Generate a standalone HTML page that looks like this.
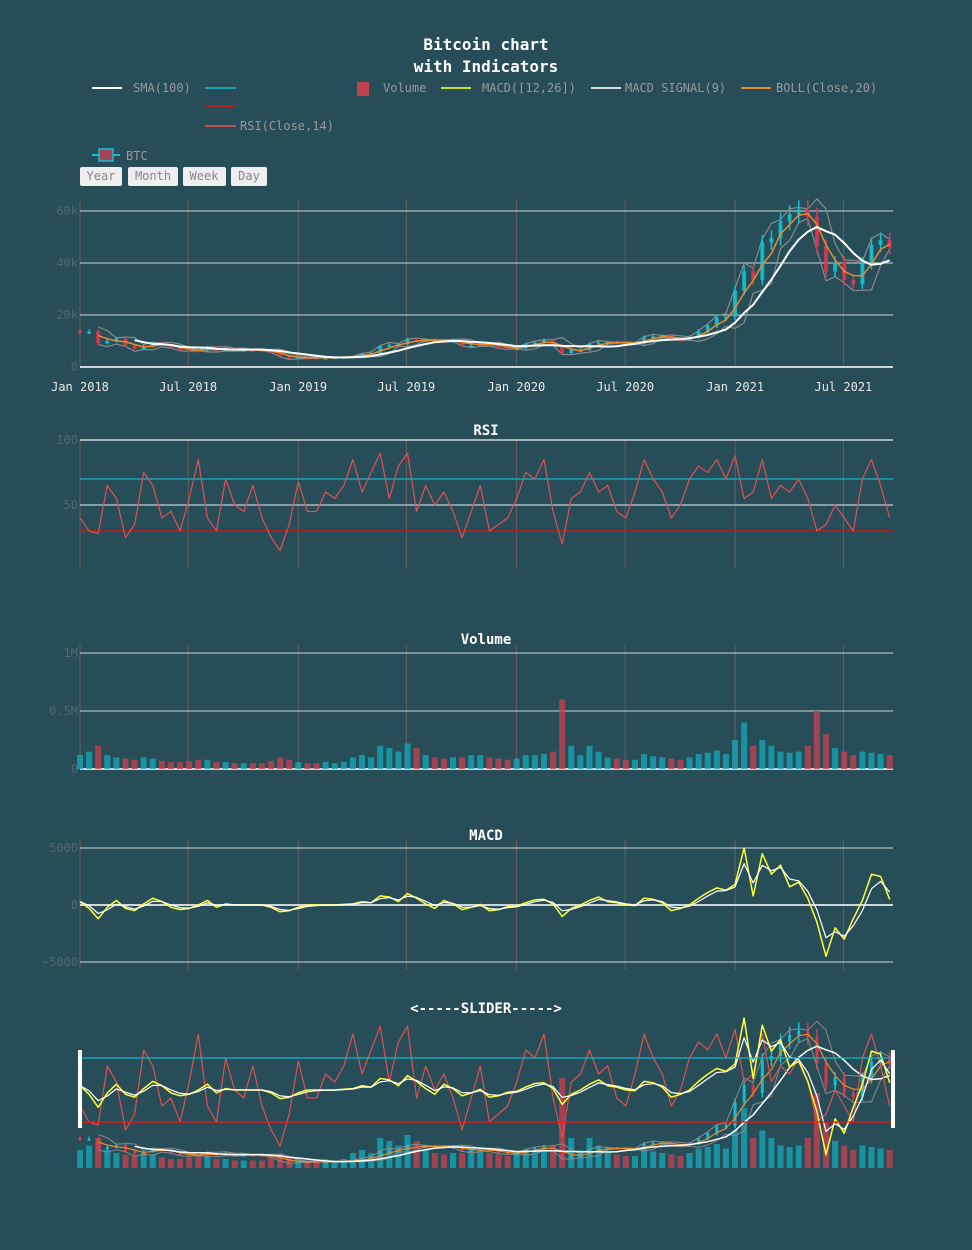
<!DOCTYPE html>
<html><head><meta charset="utf-8">
<style>
html,body{margin:0;padding:0;background:#274d58;}
svg{display:block;font-family:"DejaVu Sans Mono","Liberation Mono",monospace;}
</style></head>
<body>
<svg id="c" width="972" height="1250" viewBox="0 0 972 1250">
<rect x="0" y="0" width="972" height="1250" fill="#274d58"/>
<text x="486" y="50" text-anchor="middle" fill="#fff" font-size="16" font-weight="bold">Bitcoin chart</text>
<text x="486" y="72" text-anchor="middle" fill="#fff" font-size="16" font-weight="bold">with Indicators</text>
<g font-size="12" fill="#999">
 <g><line x1="92" y1="88" x2="122" y2="88" stroke="#fff" stroke-width="2"/><text x="133" y="92">SMA(100)</text></g>
 <g><line x1="205" y1="88" x2="236" y2="88" stroke="#17a5b5" stroke-width="2"/></g>
 <g><line x1="205" y1="106" x2="236" y2="106" stroke="#b02020" stroke-width="2"/></g>
 <g><line x1="205" y1="126" x2="236" y2="126" stroke="#c0504d" stroke-width="2"/><text x="240" y="130">RSI(Close,14)</text></g>
 <g><rect x="357" y="82" width="12" height="14" fill="#c0414f"/><text x="383" y="92">Volume</text></g>
 <g><line x1="441" y1="88" x2="471" y2="88" stroke="#cddc39" stroke-width="2"/><text x="482" y="92">MACD([12,26])</text></g>
 <g><line x1="591" y1="88" x2="621" y2="88" stroke="#ddd" stroke-width="2"/><text x="625" y="92">MACD SIGNAL(9)</text></g>
 <g><line x1="741" y1="88" x2="771" y2="88" stroke="#e08a2c" stroke-width="2"/><text x="776" y="92">BOLL(Close,20)</text></g>
 <g><line x1="92" y1="155" x2="120" y2="155" stroke="#17becf" stroke-width="2"/><rect x="99" y="149" width="14" height="12" fill="#a04458" stroke="#17becf" stroke-width="1.5"/><text x="126" y="160">BTC</text></g>
</g>
<g font-size="12" fill="#888">
 <g><rect x="80" y="167" width="42" height="19" rx="2" fill="#eee"/><text x="101" y="180" text-anchor="middle">Year</text></g>
 <g><rect x="128" y="167" width="50" height="19" rx="2" fill="#eee"/><text x="153" y="180" text-anchor="middle">Month</text></g>
 <g><rect x="183" y="167" width="43" height="19" rx="2" fill="#eee"/><text x="204" y="180" text-anchor="middle">Week</text></g>
 <g><rect x="231" y="167" width="36" height="19" rx="2" fill="#eee"/><text x="249" y="180" text-anchor="middle">Day</text></g>
</g>
<text x="486" y="435" text-anchor="middle" fill="#fff" font-size="14" font-weight="bold">RSI</text>
<text x="486" y="644" text-anchor="middle" fill="#fff" font-size="14" font-weight="bold">Volume</text>
<text x="486" y="840" text-anchor="middle" fill="#fff" font-size="14" font-weight="bold">MACD</text>
<text x="486" y="1013" text-anchor="middle" fill="#fff" font-size="14" font-weight="bold">&lt;-----SLIDER-----&gt;</text>
</svg>
<script>
// half-monthly samples Jan 2018 .. Sep 2021 (90 points)
const closes = [13.5,13.6,9.1,10.0,10.9,8.2,6.9,8.0,9.2,8.5,7.5,6.5,6.4,6.3,7.6,6.3,7.2,6.5,6.6,6.5,6.4,5.6,4.2,3.3,
3.8,3.6,3.5,3.6,3.8,3.9,4.1,5.1,5.4,8.0,8.5,8.8,10.6,10.2,10.4,10.3,9.8,10.3,8.3,8.3,9.2,8.5,7.4,7.1,
7.2,8.8,9.4,10.3,8.6,5.4,6.6,6.6,8.8,9.4,9.5,9.4,9.2,9.2,11.4,11.8,11.9,10.8,10.6,11.5,13.7,15.9,19.0,19.3,
29.4,36.8,33.5,47.9,49.6,56.0,58.7,60.5,57.8,46.4,36.7,40.2,33.5,31.8,39.9,47.0,48.8,46.0];
const rsiValues = [40,30,28,65,55,25,35,75,65,40,45,30,55,85,40,30,70,50,45,65,40,25,15,35,
68,45,45,60,55,65,85,60,75,90,55,80,90,45,65,50,60,45,25,45,65,30,35,40,
55,75,70,85,45,20,55,60,75,60,65,45,40,60,85,70,60,40,50,70,80,75,85,70,
88,55,60,85,55,65,60,70,55,30,35,50,40,30,70,85,65,40];
const volumeM = [0.12,0.15,0.2,0.12,0.1,0.09,0.08,0.1,0.09,0.07,0.06,0.06,0.07,0.08,0.08,0.06,0.06,0.05,0.05,0.05,0.05,0.07,0.1,0.08,
0.06,0.05,0.05,0.06,0.05,0.06,0.1,0.12,0.1,0.2,0.18,0.15,0.22,0.18,0.12,0.1,0.09,0.1,0.1,0.12,0.12,0.1,0.09,0.08,
0.09,0.12,0.12,0.13,0.15,0.6,0.2,0.12,0.2,0.15,0.1,0.09,0.08,0.08,0.13,0.11,0.1,0.09,0.08,0.1,0.13,0.14,0.16,0.13,
0.25,0.4,0.2,0.25,0.2,0.15,0.14,0.15,0.2,0.5,0.3,0.18,0.15,0.12,0.15,0.14,0.13,0.12];
const macdValues = [300,-300,-1200,-200,400,-300,-500,100,600,300,-200,-400,-300,0,400,-200,100,0,0,0,0,-200,-600,-500,
-200,0,0,0,0,50,100,300,200,800,700,300,1000,600,100,-300,400,100,-400,-200,50,-500,-400,-150,
-100,200,450,500,100,-1000,-300,0,400,700,300,200,0,-50,600,500,200,-500,-300,0,600,1100,1500,1300,
1800,5000,800,4500,2700,3500,1600,2000,600,-1500,-4500,-2000,-3000,-1200,400,2700,2500,500];
const priceTicks = [0,20,40,60];
const priceTickLabels = ['0','20k','40k','60k'];
const volTicks = [0,0.5,1];
const volTickLabels = ['0','0.5M','1M'];
const macdTicks = [-5000,0,5000];
const dateTickDays = [0,181,365,546,730,912,1096,1277];
const dateTickLabels = ['Jan 2018','Jul 2018','Jan 2019','Jul 2019','Jan 2020','Jul 2020','Jan 2021','Jul 2021'];

const NS='http://www.w3.org/2000/svg';
const svg=document.getElementById('c');
function mk(tag,attrs,parent){const e=document.createElementNS(NS,tag);for(const k in attrs)e.setAttribute(k,attrs[k]);(parent||svg).appendChild(e);return e;}
const dayOf=i=>i*365.25/24;
const X=d=>80+d*(813/1360);
const xi=i=>X(dayOf(i));
const yP=v=>367-v*2.6, yR=v=>570-v*1.3, yV=v=>769-v*116, yM=v=>905-v*0.0114;
const sP=v=>1170-v*2.3, sR=v=>1170-v*1.6, sV=v=>1168-v*150, sM=v=>1090-v*0.0144;

function sma(a,w){return a.map((v,i)=>i<w-1?null:a.slice(i-w+1,i+1).reduce((s,x)=>s+x,0)/w);}
const smaVals=sma(closes,7);
const bollMid=sma(closes,3);
const bollUp=bollMid.map((m,i)=>{if(m===null)return null;const s=closes.slice(i-2,i+1);const sd=Math.sqrt(s.reduce((t,x)=>t+(x-m)*(x-m),0)/3);return m+1.6*sd;});
const bollLo=bollMid.map((m,i)=>{if(m===null)return null;return 2*m-bollUp[i];});
const signal=[];macdValues.forEach((v,i)=>signal.push(i?signal[i-1]+0.6*(v-signal[i-1]):v));

function pathOf(arr,yf){let d='';arr.forEach((v,i)=>{if(v===null)return;d+=(d?'L':'M')+xi(i).toFixed(1)+','+yf(v).toFixed(1);});return d;}
function line(arr,yf,color,w,name,g){const p=mk('path',{d:pathOf(arr,yf),fill:'none',stroke:color,'stroke-width':w,'stroke-linejoin':'round'},g);

return p;}
function hline(y,x1,x2,color,w,name){const l=mk('line',{x1:x1,x2:x2,y1:y,y2:y,stroke:color,'stroke-width':w});

}
function vgrid(y1,y2,name){dateTickDays.forEach(d=>{const l=mk('line',{x1:X(d),x2:X(d),y1:y1,y2:y2,stroke:'#6b5f5a','stroke-width':1});

});}
function ylab(y,t,name){const e=mk('text',{x:78,y:y+4,'text-anchor':'end',fill:'#4f6872','font-size':12});e.textContent=t;

}

vgrid(200,367,'price-vgrid');
priceTicks.forEach((v,k)=>{hline(yP(v),80,893,'#cfd6da',v===0?2:1,'price-gridline');ylab(yP(v),priceTickLabels[k],'price-tick-label');});
dateTickDays.forEach((d,k)=>{const t=mk('text',{x:X(d),y:391,'text-anchor':'middle',fill:'#e8e8e8','font-size':12});t.textContent=dateTickLabels[k];

});
function candles(yf,g,wScale){closes.forEach((c,i)=>{const o=i?closes[i-1]:c*1.03;const up=c>=o;const col=up?'#17becf':'#d9394f';
const hi=Math.max(o,c)*1.06,lo=Math.min(o,c)*0.94;const x=xi(i);
const w=mk('line',{x1:x,x2:x,y1:yf(hi),y2:yf(lo),stroke:col,'stroke-width':1.5},g);


const r=mk('rect',{x:x-2*wScale,y:Math.min(yf(o),yf(c)),width:4*wScale,height:Math.max(2,Math.abs(yf(o)-yf(c))),fill:col,opacity:0.85},g);

});}
const pg=mk('g',{});


line(bollUp,yP,'#8a8a8a',1.2,'boll-upper',pg);line(bollLo,yP,'#8a8a8a',1.2,'boll-lower',pg);
candles(yP,pg,1);
line(bollMid,yP,'#f08a24',1.5,'boll-mid',pg);
line(smaVals,yP,'#ffffff',2,'sma-line',pg);

vgrid(440,568,'rsi-vgrid');
hline(yR(100),80,893,'#cfd6da',1.5,'rsi-gridline');ylab(yR(100),'100','rsi-tick-label');
hline(yR(50),80,893,'#aab8be',1.5,'rsi-gridline');ylab(yR(50),'50','rsi-tick-label');
hline(yR(70),80,893,'#17a5b5',1.5,'rsi-overbought-line');
hline(yR(30),80,893,'#c01818',1.5,'rsi-oversold-line');
line(rsiValues,yR,'#e05050',1.2,'rsi-line');

vgrid(645,769,'volume-vgrid');
volTicks.forEach((v,k)=>{hline(yV(v),80,893,'#cfd6da',v===0?2:1,'volume-gridline');ylab(yV(v),volTickLabels[k],'volume-tick-label');});
function volBars(yf,base,g){volumeM.forEach((v,i)=>{const up=i===0||closes[i]>=closes[i-1];const x=xi(i);
const b=mk('rect',{x:x-3,y:yf(v),width:6,height:base-yf(v),fill:up?'#17a5b5':'#c0414f',opacity:0.8},g);

});}
volBars(yV,769);

vgrid(840,970,'macd-vgrid');
macdTicks.forEach(v=>{hline(yM(v),80,893,'#cfd6da',v===0?2:1,'macd-gridline');ylab(yM(v),v>0?'5000':(v<0?'−5000':'0'),'macd-tick-label');});
line(macdValues,yM,'#ffff33',1.5,'macd-line');
line(signal,yM,'#ffffff',1.2,'macd-signal-line');

const sg=mk('g',{});


volBars(sV,1168,sg);
candles(sP,sg,0.8);
line(bollUp,sP,'#8a8a8a',1,'slider-boll-upper',sg);line(bollLo,sP,'#8a8a8a',1,'slider-boll-lower',sg);
line(bollMid,sP,'#f08a24',1.2,'slider-boll-mid',sg);
line(smaVals,sP,'#ffffff',1.5,'slider-sma',sg);
line(rsiValues,sR,'#e05050',1.2,'slider-rsi',sg);
hline(sR(70),80,893,'#17b5c5',1.2,'slider-rsi-70');
hline(sR(30),80,893,'#ff1010',1.2,'slider-rsi-30');
line(macdValues,sM,'#ffff33',1.5,'slider-macd',sg);
line(signal,sM,'#ffffff',1.2,'slider-macd-signal',sg);
const h1=mk('rect',{x:78,y:1050,width:4,height:78,fill:'#fff'});


const h2=mk('rect',{x:891,y:1050,width:4,height:78,fill:'#fff'});


</script>
</body></html>
